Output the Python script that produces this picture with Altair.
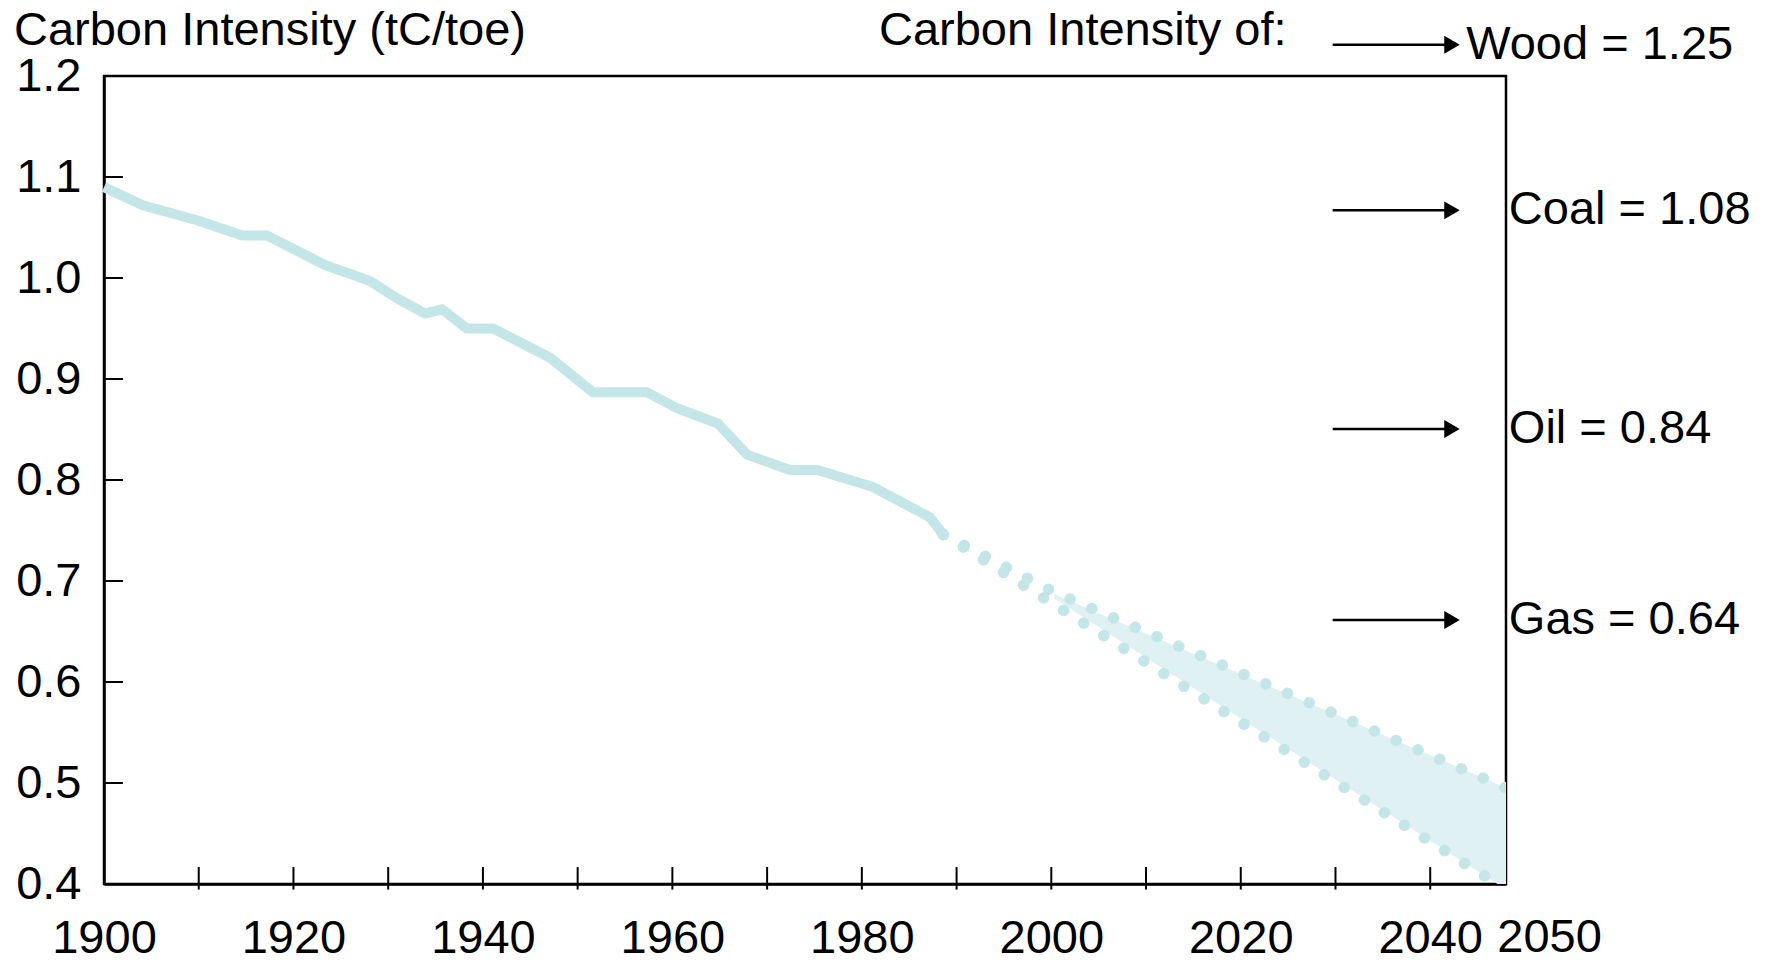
import altair as alt
import pandas as pd

# ---------------- data ----------------
hist_years = [1900, 1904.1, 1909.9, 1914.6, 1917.2, 1923.3, 1928.1, 1930.9, 1933.9,
              1935.7, 1938.3, 1941.1, 1947.1, 1951.6, 1957.3, 1960.5, 1964.8, 1967.9,
              1972.4, 1975.3, 1981.2, 1987.2, 1988.6]
hist_values = [1.090, 1.072, 1.057, 1.042, 1.042, 1.013, 0.997, 0.980, 0.965,
               0.969, 0.950, 0.950, 0.921, 0.887, 0.887, 0.871, 0.856, 0.825,
               0.810, 0.810, 0.793, 0.763, 0.746]

upper_years = [1988.6, 2000.3, 2048.0]
upper_values = [0.746, 0.689, 0.495]
lower_years = [1988.6, 2047.1]
lower_values = [0.746, 0.400]

band_years = [2000.3, 2047.1, 2048.0]
band_upper = [0.687, 0.499, 0.495]
band_lower = [0.683, 0.400, 0.400]

x_label_years = [1900, 1920, 1940, 1960, 1980, 2000, 2020, 2040]
x_tick_years = [1910, 1920, 1930, 1940, 1950, 1960, 1970, 1980, 1990, 2000, 2010, 2020, 2030, 2040]
y_label_values = [0.4, 0.5, 0.6, 0.7, 0.8, 0.9, 1.0, 1.1, 1.2]
y_tick_values = [0.5, 0.6, 0.7, 0.8, 0.9, 1.0, 1.1]
extra_x_label = ["2050"]
extra_x_label_year = [2052.6]

fuel_labels = ["Wood = 1.25", "Coal = 1.08", "Oil = 0.84", "Gas = 0.64"]
fuel_arrow_y = [1.231, 1.067, 0.8505, 0.6614]
fuel_text_x = [2043.8, 2048.3, 2048.3, 2048.3]
arrow_start_year = 2029.7
arrow_end_year = 2042.3

y_title = "Carbon Intensity (tC/toe)"
right_title = "Carbon Intensity of:"

# ---------------- styling ----------------
FONT = "Liberation Sans"
FS = 47
LINE = "#c4e6e8"
FILL = "#dff1f2"
W, H = 1402, 808

xscale = alt.Scale(domain=[1900, 2048], nice=False, zero=False)
yscale = alt.Scale(domain=[0.4, 1.2], nice=False, zero=False)

x_axis = alt.Axis(values=x_label_years, format="d", labelFontSize=FS, labelFont=FONT,
                  labelColor="black", ticks=False, tickSize=0, labelPadding=31,
                  grid=False, domainColor="black", domainWidth=2.5,
                  labelFlush=False, labelOverlap=False, title=None)
y_axis = alt.Axis(values=y_label_values, format=".1f", labelFontSize=FS, labelFont=FONT,
                  labelColor="black", ticks=False, tickSize=0, labelPadding=23,
                  grid=False, domainColor="black", domainWidth=2.5,
                  labelFlush=False, labelOverlap=False, title=None)


def X(field):
    return alt.X(f"{field}:Q", scale=xscale, axis=x_axis, title=None)


def Y(field):
    return alt.Y(f"{field}:Q", scale=yscale, axis=y_axis, title=None)


hist_df = pd.DataFrame({"year": hist_years, "value": hist_values})
upper_df = pd.DataFrame({"year": upper_years, "value": upper_values})
lower_df = pd.DataFrame({"year": lower_years, "value": lower_values})
band_df = pd.DataFrame({"year": band_years, "hi": band_upper, "lo": band_lower})
xt_df = pd.DataFrame({"year": x_tick_years, "y0": [0.3945] * len(x_tick_years),
                      "y1": [0.4168] * len(x_tick_years)})
yt_df = pd.DataFrame({"value": y_tick_values, "x0": [1900] * len(y_tick_values),
                      "x1": [1902.0] * len(y_tick_values)})
fuel_df = pd.DataFrame({"label": fuel_labels, "y": fuel_arrow_y, "tx": fuel_text_x,
                        "x0": [arrow_start_year] * 4, "x1": [arrow_end_year] * 4})
extra_df = pd.DataFrame({"label": extra_x_label, "year": extra_x_label_year})

hist = alt.Chart(hist_df).mark_line(
    color=LINE, strokeWidth=10, strokeJoin="miter", strokeCap="butt"
).encode(x=X("year"), y=Y("value"))

band = alt.Chart(band_df).mark_area(color=FILL, clip=True).encode(
    x=X("year"), y=Y("hi"), y2="lo:Q"
)

dots_up = alt.Chart(upper_df).mark_line(
    color=LINE, strokeWidth=11.5, strokeDash=[0.1, 23.6], strokeCap="round", clip=True
).encode(x=X("year"), y=Y("value"))

dots_lo = alt.Chart(lower_df).mark_line(
    color=LINE, strokeWidth=11.5, strokeDash=[0.1, 23.6], strokeCap="round", clip=True
).encode(x=X("year"), y=Y("value"))

xticks = alt.Chart(xt_df).mark_rule(color="black", strokeWidth=2).encode(
    x=X("year"), y=Y("y0"), y2="y1:Q"
)
yticks = alt.Chart(yt_df).mark_rule(color="black", strokeWidth=2).encode(
    y=Y("value"), x=X("x0"), x2="x1:Q"
)

arrows = alt.Chart(fuel_df).mark_rule(color="black", strokeWidth=2.5).encode(
    x=X("x0"), x2="x1:Q", y=Y("y")
)
heads = alt.Chart(fuel_df).mark_point(
    shape="triangle-right", filled=True, color="black", size=320, opacity=1
).encode(x=X("x1"), y=Y("y"))
fuel_text = alt.Chart(fuel_df).mark_text(
    font=FONT, fontSize=FS, align="left", baseline="middle", color="black"
).encode(x=X("tx"), y=Y("y"), text="label:N")

extra_lbl = alt.Chart(extra_df).mark_text(
    font=FONT, fontSize=FS, align="center", baseline="top", color="black"
).encode(x=X("year"), y=alt.value(H + 31), text="label:N")

title_left = alt.Chart(pd.DataFrame({"t": [y_title]})).mark_text(
    font=FONT, fontSize=FS, align="left", baseline="alphabetic", color="black"
).encode(x=alt.value(-90), y=alt.value(-31), text="t:N")
title_right = alt.Chart(pd.DataFrame({"t": [right_title]})).mark_text(
    font=FONT, fontSize=FS, align="left", baseline="alphabetic", color="black"
).encode(x=alt.value(775), y=alt.value(-31), text="t:N")

chart = alt.layer(
    hist, band, dots_up, dots_lo, yticks, xticks, arrows, heads, fuel_text,
    extra_lbl, title_left, title_right
).properties(
    width=W, height=H,
    autosize=alt.AutoSizeParams(type="none"),
    padding={"left": 96, "top": 68, "right": 255, "bottom": 78},
).configure(
    font=FONT
).configure_view(
    stroke="black", strokeWidth=2.5
)

chart.save("out.html", embed_options={"renderer": "svg", "actions": False})
